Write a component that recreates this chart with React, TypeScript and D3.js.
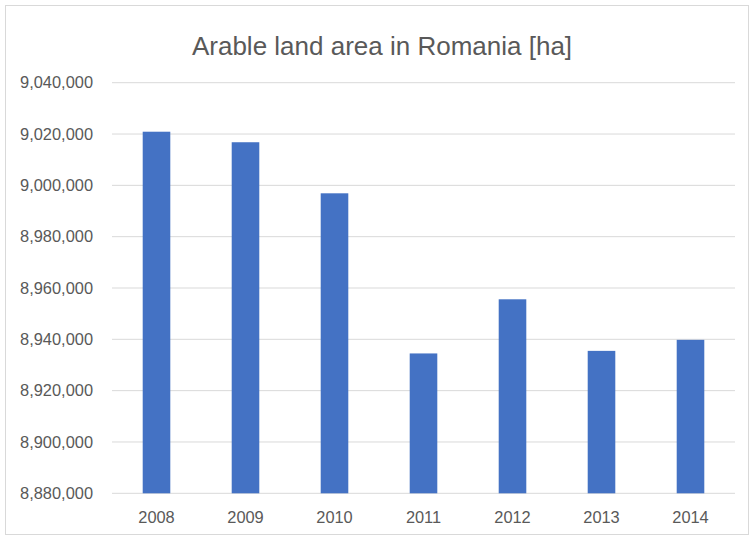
import React from "react";
import * as d3 from "d3";

const years = ["2008", "2009", "2010", "2011", "2012", "2013", "2014"];
const areas = [9020900, 9016800, 8996900, 8934500, 8955600, 8935500, 8939800];
const yTicks = [8880000, 8900000, 8920000, 8940000, 8960000, 8980000, 9000000, 9020000, 9040000];
const title = "Arable land area in Romania [ha]";

export default function App() {
  const W = 752, H = 544;
  const left = 112, right = 735, top = 82.7, bottom = 493.3;
  const x = d3.scaleBand().domain(years).range([left, right]).paddingInner(0.69).paddingOuter(0.345);
  const y = d3.scaleLinear().domain([8880000, 9040000]).range([bottom, top]);
  const fmt = d3.format(",");
  const font = "'Liberation Sans', Arial, sans-serif";
  return (
    <svg width={W} height={H} style={{ position: "absolute", left: 0, top: 0 }} fontFamily={font}>
      <rect x={0} y={0} width={W} height={H} fill="#fff" />
      <rect x={5.5} y={5.5} width={743} height={529} fill="#fff" stroke="#d9d9d9" />
      <text x={382} y={55} textAnchor="middle" fontSize={26} fill="#595959">{title}</text>
      {yTicks.map((t) => (
        <g key={t}>
          <line x1={left} x2={right} y1={y(t)} y2={y(t)} stroke="#d9d9d9" strokeWidth={1} />
          <text x={93} y={y(t)} dy="0.35em" textAnchor="end" fontSize={16.4} fill="#595959">{fmt(t)}</text>
        </g>
      ))}
      {years.map((yr, i) => (
        <rect key={yr} x={x(yr)} y={y(areas[i])} width={x.bandwidth()} height={y(8880000) - y(areas[i])} fill="#4472C4" />
      ))}
      {years.map((yr) => (
        <text key={yr} x={(x(yr) as number) + x.bandwidth() / 2} y={523} textAnchor="middle" fontSize={16.4} fill="#595959">{yr}</text>
      ))}
    </svg>
  );
}
